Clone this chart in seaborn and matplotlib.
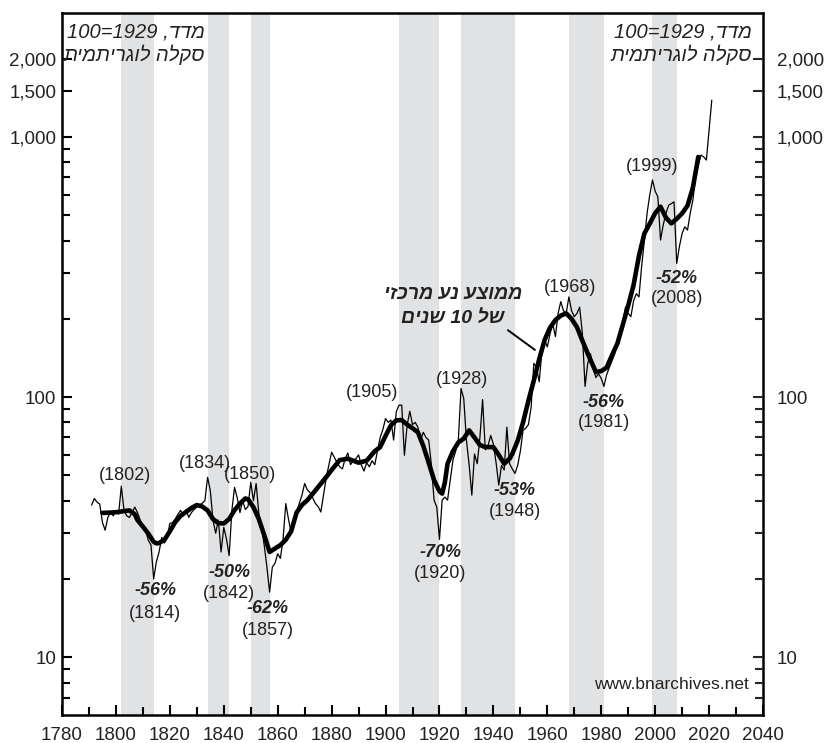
import re
import matplotlib
matplotlib.use("Agg")
import matplotlib.pyplot as plt
import seaborn as sns
from matplotlib.ticker import FixedLocator, FuncFormatter, NullFormatter

# ---- data (index, 1929 = 100) ----
years = list(range(1791, 2020)) + [2021]
index_values = [
    38.5, 40.8, 39.5, 38.8, 33, 30.8, 34.5, 36, 35, 36.5,          # 1791-1800
    35.5, 45.5, 36.7, 35, 34.5, 36, 37.8, 36, 33.7, 32,            # 1801-1810
    30.8, 28.2, 27, 20, 23.3, 25.4, 28.9, 27.5, 29, 32.7,          # 1811-1820
    33, 34, 35.5, 36.7, 35, 37, 34.5, 36, 37, 37.8,                # 1821-1830
    38.5, 39.1, 40, 49.2, 43.8, 33.7, 30, 33.7, 25.4, 31.6,        # 1831-1840
    28.5, 24.6, 36.7, 45, 41, 36, 40, 37, 38, 47.1,                # 1841-1850
    40, 46.6, 35.8, 31.6, 27, 22.2, 17.8, 22.2, 23, 25,            # 1851-1860
    24, 28.5, 39, 34, 30, 33, 36.2, 39, 42, 46.6,                  # 1861-1870
    44, 43, 41, 39, 38, 36.2, 42, 49, 55, 61.4,                    # 1871-1880
    58.8, 56, 54, 53, 58, 61, 55, 57, 58, 60,                      # 1881-1890
    55, 52, 56, 54, 57, 55, 62, 70, 75, 82.8,                      # 1891-1900
    80, 81.7, 68.4, 88, 93.2, 93.2, 59.8, 78, 88.3, 78.5,          # 1901-1910
    80, 76.7, 68.4, 73.3, 70, 68.4, 55, 40.2, 37.8, 28.4,          # 1911-1920
    40.2, 41.3, 40.2, 48, 57.3, 62, 68.4, 108, 99, 68.4,           # 1921-1930
    55, 42, 60.5, 55.5, 70, 97.9, 62.8, 65, 71.3, 66,              # 1931-1940
    56, 45.9, 54.7, 52.5, 76.7, 55.5, 53, 50.9, 54.7, 62,          # 1941-1950
    74.6, 76, 78.5, 91.5, 135, 130, 114.6, 150, 166, 156,          # 1951-1960
    175, 192, 171, 210, 233, 215, 210, 243, 215, 204,              # 1961-1970
    210, 222, 176, 110, 135, 147, 130, 119, 123, 118,              # 1971-1980
    110, 122, 130, 138, 147, 160, 171, 195, 222, 210,              # 1981-1990
    204, 235, 250, 243, 320, 400, 509, 600, 684, 620,              # 1991-2000
    589, 402, 460, 509, 547, 555, 564, 327, 380, 426,              # 2001-2010
    452, 439, 510, 573, 703, 780, 853, 839, 816,                   # 2011-2019
    1387,                                                          # 2021
]

# centred 10-year moving average
ma_years = [1795, 1798, 1801, 1803, 1805, 1807, 1808, 1810, 1812, 1814,
            1815, 1816, 1818, 1820, 1822, 1824, 1826, 1828, 1830, 1832,
            1834, 1836, 1838, 1840, 1842, 1844, 1846, 1848, 1849, 1851,
            1853, 1855, 1857, 1859, 1861, 1863, 1865, 1867, 1869, 1871,
            1874, 1876, 1878, 1880, 1883, 1886, 1888, 1890, 1893, 1896,
            1898, 1900, 1902, 1904, 1906, 1908, 1910, 1912, 1914, 1916,
            1918, 1920, 1921, 1922, 1923, 1925, 1927, 1929, 1931, 1933,
            1935, 1937, 1940, 1942, 1944, 1946, 1947, 1949, 1951, 1953,
            1955, 1957, 1959, 1961, 1963, 1965, 1967, 1969, 1971, 1973,
            1975, 1977, 1978, 1980, 1982, 1984, 1986, 1988, 1990, 1992,
            1994, 1996, 1998, 2000, 2002, 2004, 2006, 2008, 2010, 2012,
            2014, 2016]
ma_values = [35.9, 36.0, 36.2, 36.5, 36.7, 35.5, 33.7, 31.8, 29.9, 27.8,
             27.4, 27.5, 28.3, 30.5, 33.1, 35.0, 36.2, 37.5, 38.5, 38.0,
             36.7, 34.0, 32.8, 32.7, 34.0, 36.8, 39.0, 40.8, 40.5, 37.8,
             34.0, 29.5, 25.4, 26.2, 27.0, 28.3, 30.5, 36.0, 38.5, 40.2,
             43.8, 46.5, 49.3, 52.5, 57.3, 58.0, 57.0, 56.0, 57.0, 62.0,
             64.3, 71.0, 78.0, 81.5, 81.7, 78.5, 76.0, 73.3, 65.0, 56.0,
             48.0, 43.5, 42.6, 47.0, 55.5, 62.0, 67.0, 69.3, 74.6, 70.0,
             65.5, 64.3, 64.3, 60.0, 55.5, 58.0, 60.5, 68.0, 80.0, 97.0,
             116, 140, 166, 185, 198, 206, 210, 200, 186, 165,
             147, 132, 125, 126, 130, 145, 161, 190, 225, 270,
             350, 426, 465, 510, 540, 490, 466, 485, 509, 545,
             640, 839]

# shaded periods (peak -> trough)
band_start = [1802, 1834, 1850, 1905, 1928, 1968, 1999]
band_end = [1814, 1842, 1857, 1920, 1948, 1981, 2008]

# peak labels (year, position)
peak_labels = ["(1802)", "(1834)", "(1850)", "(1905)", "(1928)", "(1968)", "(1999)"]
peak_x = [1803.4, 1833.0, 1849.7, 1895.0, 1928.4, 1968.4, 1998.8]
peak_y = [50.1, 55.7, 50.6, 104.5, 117, 265, 773]

# trough labels
drop_labels = ["-56%", "-50%", "-62%", "-70%", "-53%", "-56%", "-52%"]
trough_labels = ["(1814)", "(1842)", "(1857)", "(1920)", "(1948)", "(1981)", "(2008)"]
trough_x = [1814.5, 1842.0, 1856.4, 1920.2, 1948.0, 1981.0, 2008.1]
drop_y = [18.1, 21.2, 15.4, 25.3, 43.8, 95.7, 287]
trough_y = [14.8, 17.6, 12.7, 21.0, 36.5, 80.2, 240]


def to_visual(s):
    # matplotlib has no bidi: reverse Hebrew, keep digit runs left-to-right
    r = s[::-1]
    return re.sub(r"\d+", lambda m: m.group(0)[::-1], r)


sns.set_style("ticks")
plt.rcParams["font.family"] = ["Liberation Sans", "DejaVu Sans"]

fig = plt.figure(figsize=(8.28, 7.43), dpi=100)
ax = fig.add_axes([62 / 828, 28 / 743, 701 / 828, 702 / 743])

for s, e in zip(band_start, band_end):
    ax.axvspan(s, e, color="#e1e2e4", lw=0, zorder=0)

sns.lineplot(x=years, y=index_values, ax=ax, color="black", lw=0.9,
             estimator=None, sort=False, zorder=3)
sns.lineplot(x=ma_years, y=ma_values, ax=ax, color="black", lw=3.3,
             estimator=None, sort=False, zorder=4)

ax.set_yscale("log")
ax.set_xlim(1780, 2040)
ax.set_ylim(6, 3000)

major_y = [10, 100, 1000, 1500, 2000]
minor_y = [7, 8, 9, 20, 30, 40, 50, 60, 70, 80, 90,
           200, 300, 400, 500, 600, 700, 800, 900]
fmt = FuncFormatter(lambda v, p: f"{v:,.0f}")

ax.xaxis.set_major_locator(FixedLocator(range(1780, 2041, 20)))
ax.xaxis.set_minor_locator(FixedLocator(range(1790, 2040, 20)))
ax.yaxis.set_major_locator(FixedLocator(major_y))
ax.yaxis.set_minor_locator(FixedLocator(minor_y))
ax.yaxis.set_major_formatter(fmt)
ax.yaxis.set_minor_formatter(NullFormatter())
ax.tick_params(axis="both", which="both", direction="in", colors="black",
               labelsize=13.5, width=1.5, labelcolor="#222222")
ax.tick_params(axis="both", which="major", length=7)
ax.tick_params(axis="both", which="minor", length=5.5)
ax.tick_params(axis="x", pad=9)
ax.tick_params(axis="y", pad=4)
ax.set_xlabel("")
ax.set_ylabel("")
for sp in ax.spines.values():
    sp.set_visible(True)
    sp.set_linewidth(1.8)
    sp.set_color("black")

ax2 = ax.twinx()
ax2.set_yscale("log")
ax2.set_ylim(6, 3000)
ax2.yaxis.set_major_locator(FixedLocator(major_y))
ax2.yaxis.set_minor_locator(FixedLocator(minor_y))
ax2.yaxis.set_major_formatter(fmt)
ax2.yaxis.set_minor_formatter(NullFormatter())
ax2.tick_params(axis="y", which="both", direction="in", labelsize=13.5,
                width=1.5, pad=10, labelcolor="#222222")
ax2.tick_params(axis="y", which="major", length=7)
ax2.tick_params(axis="y", which="minor", length=5.5)
for sp in ax2.spines.values():
    sp.set_visible(False)

# annotations
for s, x, y in zip(peak_labels, peak_x, peak_y):
    ax.text(x, y, s, ha="center", va="center", fontsize=13, color="#222222", zorder=5)
for d, t, x, y1, y2 in zip(drop_labels, trough_labels, trough_x, drop_y, trough_y):
    ax.text(x, y1, d, ha="center", va="center", fontsize=13, fontweight="bold",
            fontstyle="italic", color="#222222", zorder=5)
    ax.text(x, y2, t, ha="center", va="center", fontsize=13, color="#222222", zorder=5)

ax.text(1925, 249, to_visual("ממוצע נע מרכזי"), ha="center", va="center",
        fontsize=14, fontweight="bold", fontstyle="italic", color="#222222", zorder=5)
ax.text(1925, 201, to_visual("של 10 שנים"), ha="center", va="center",
        fontsize=14, fontweight="bold", fontstyle="italic", color="#222222", zorder=5)
ax.plot([1945.4, 1955.4], [181, 152], color="black", lw=1.4, zorder=5)

for xr in [0.204, 0.984]:
    ax.text(xr, 0.973, to_visual("מדד, 1929=100"), transform=ax.transAxes,
            ha="right", va="center", fontsize=14.5, fontstyle="italic", color="#222222")
    ax.text(xr, 0.940, to_visual("סקלה לוגריתמית"), transform=ax.transAxes,
            ha="right", va="center", fontsize=14.5, fontstyle="italic", color="#222222")

ax.text(0.98, 0.043, "www.bnarchives.net", transform=ax.transAxes,
        ha="right", va="center", fontsize=12.5, color="#222222")

fig.savefig("out.png", dpi=100)
